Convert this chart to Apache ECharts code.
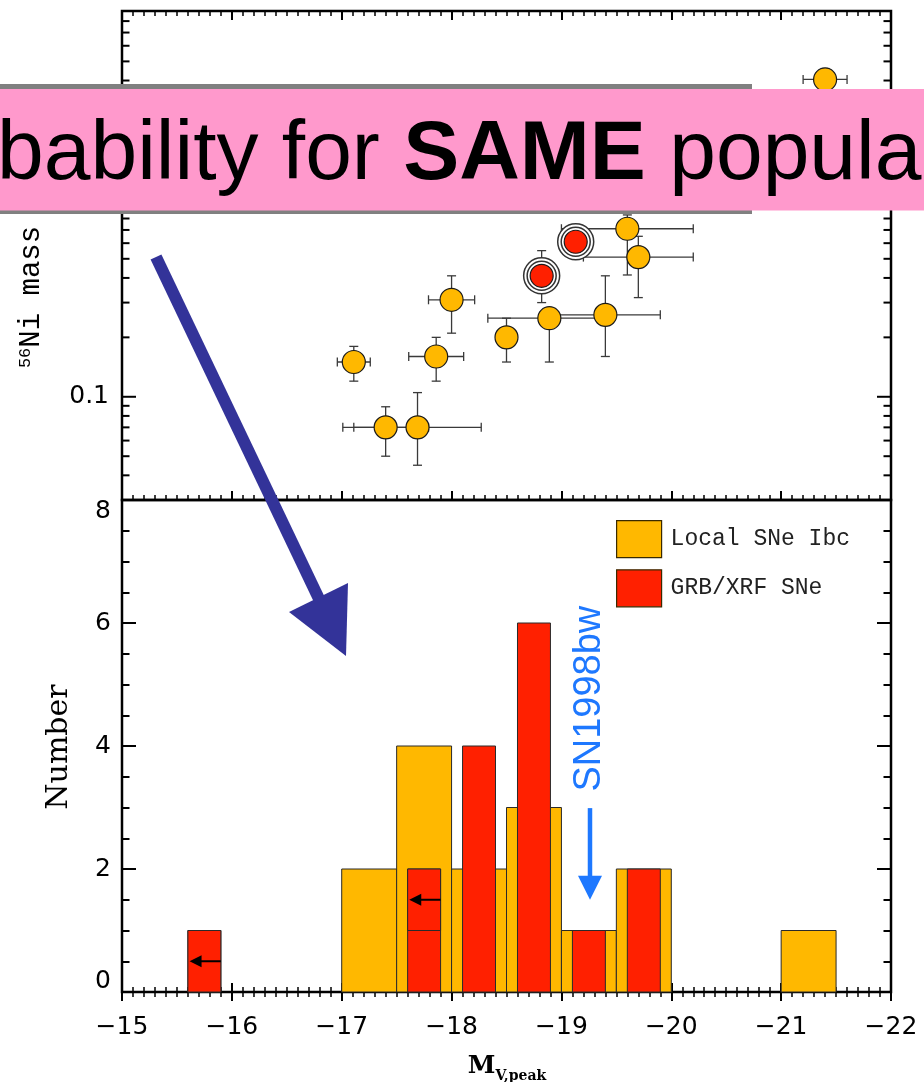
<!DOCTYPE html>
<html><head><meta charset="utf-8">
<script src="https://cdn.jsdelivr.net/npm/echarts@6/dist/echarts.min.js"></script>
<style>html,body{margin:0;padding:0;background:#fff}#c{width:924px;height:1082px}</style>
</head><body><div id="c"></div>
<script>
// ---------- Top panel: 56Ni mass vs M_V,peak ----------
const localMv    = [-17.11, -17.40, -17.69, -17.86, -18.00, -18.50, -18.89, -19.40, -19.60, -19.70, -21.40];
const localMvErr = [0.15, 0.39, 0.58, 0.25, 0.21, 0.06, 0.56, 0.50, 0.60, 0.50, 0.20];
const localNi    = [0.150, 0.070, 0.070, 0.160, 0.310, 0.200, 0.250, 0.260, 0.710, 0.510, 4.05];
const localNiLo  = [0.120, 0.050, 0.045, 0.120, 0.210, 0.150, 0.150, 0.160, 0.414, 0.318, 3.50];
const localNiHi  = [0.180, 0.089, 0.105, 0.200, 0.410, 0.250, 0.280, 0.410, 0.834, 0.650, 4.60];
const grbMv      = [-18.82, -19.13];
const grbMvErr   = [0.08, 0.08];
const grbNi      = [0.410, 0.610];
const grbNiLo    = [0.300, 0.500];
const grbNiHi    = [0.550, 0.730];

// ---------- Bottom panel: histogram of M_V,peak ----------
const binWidth     = 0.5;
const localBinEdge = [-17.0, -17.5, -18.0, -18.5, -19.0, -19.5, -21.0];
const localCounts  = [2, 4, 2, 3, 1, 2, 1];
const grbBinCenter = [-15.75, -17.75, -18.25, -18.75, -19.25, -19.75];
const grbCounts    = [1, 2, 4, 6, 1, 2];
const grbBarWidth  = 0.3;
const grbLimitCenter = [-15.75, -17.75];   // upper-limit entries (arrows)
const grbLimitBase   = [0, 1];
const sn1998bwMv   = -19.26;

// ---------- Ticks / labels ----------
const xMin = -22, xMax = -15;
const niMin = 0.03, niMax = 9;
const niLabelTicks = [0.1, 1];
const niMinorTicks = [0.04, 0.05, 0.06, 0.07, 0.08, 0.09, 0.2, 0.3, 0.4, 0.5, 0.6, 0.7, 0.8, 0.9, 2, 3, 4, 5, 6, 7, 8];
const legendNames = ['Local SNe Ibc', 'GRB/XRF SNe'];

const ORANGE = '#FFB800', RED = '#FF2000', BLUE = '#1E78FF', NAVY = '#333399';

const chart = echarts.init(document.getElementById('c'));

const xBase = {
  type: 'value', min: xMin, max: xMax, interval: 1, inverse: true,
  axisLine: { show: false }, splitLine: { show: false },
  axisTick: { show: true, inside: true, length: 9, lineStyle: { color: '#000', width: 2 } },
  minorTick: { show: true, splitNumber: 10, length: 5, lineStyle: { color: '#000', width: 1.5 } },
  axisLabel: { show: false }
};
const labelFont = { fontFamily: 'DejaVu Sans', fontSize: 25, color: '#000' };

const errData = localMv.map((m, i) => [m, localNi[i], localMvErr[i], localNiLo[i], localNiHi[i]])
  .concat(grbMv.map((m, i) => [m, grbNi[i], grbMvErr[i], grbNiLo[i], grbNiHi[i]]));

const tickData = niMinorTicks.map(v => [xMax, v, 0]).concat(niLabelTicks.map(v => [xMax, v, 1]));

function errItem(params, api) {
  const mv = api.value(0), ni = api.value(1), ex = api.value(2), lo = api.value(3), hi = api.value(4);
  const c = api.coord([mv, ni]);
  const l = api.coord([mv + ex, ni]);
  const r = api.coord([mv - ex, ni]);
  const t = api.coord([mv, hi]);
  const b = api.coord([mv, lo]);
  const cap = 4.5;
  const st = { stroke: '#3a3a3a', lineWidth: 1.3 };
  const ln = (x1, y1, x2, y2) => ({ type: 'line', shape: { x1, y1, x2, y2 }, style: st });
  return { type: 'group', children: [
    ln(l[0], c[1], r[0], c[1]), ln(l[0], c[1] - cap, l[0], c[1] + cap), ln(r[0], c[1] - cap, r[0], c[1] + cap),
    ln(c[0], t[1], c[0], b[1]), ln(c[0] - cap, t[1], c[0] + cap, t[1]), ln(c[0] - cap, b[1], c[0] + cap, b[1])
  ] };
}

function ringItem(params, api) {
  const c = api.coord([api.value(0), api.value(1)]);
  return { type: 'group', children: [
    { type: 'circle', shape: { cx: c[0], cy: c[1], r: 18 }, style: { fill: '#fff', stroke: '#333', lineWidth: 1.5 } },
    { type: 'circle', shape: { cx: c[0], cy: c[1], r: 14.5 }, style: { fill: 'none', stroke: '#333', lineWidth: 1.5 } }
  ] };
}

function tickItem(params, api) {
  const v = api.value(1), major = api.value(2);
  const L = api.coord([xMax, v]), R = api.coord([xMin, v]);
  const len = major ? 14 : 7.5;
  const st = { stroke: '#000', lineWidth: 2 };
  return { type: 'group', children: [
    { type: 'line', shape: { x1: L[0], y1: L[1], x2: L[0] + len, y2: L[1] }, style: st },
    { type: 'line', shape: { x1: R[0] - len, y1: R[1], x2: R[0], y2: R[1] }, style: st }
  ] };
}

function localBarItem(params, api) {
  const e = api.value(0), n = api.value(1);
  const p0 = api.coord([e, 0]), p1 = api.coord([e - binWidth, n]);
  return { type: 'rect', shape: { x: Math.min(p0[0], p1[0]), y: p1[1], width: Math.abs(p1[0] - p0[0]), height: p0[1] - p1[1] },
    style: { fill: ORANGE, stroke: '#2a2a2a', lineWidth: 1 } };
}

function grbBarItem(params, api) {
  const cx = api.value(0), n = api.value(1);
  const p0 = api.coord([cx + grbBarWidth / 2, 0]), p1 = api.coord([cx - grbBarWidth / 2, n]);
  return { type: 'rect', shape: { x: Math.min(p0[0], p1[0]), y: p1[1], width: Math.abs(p1[0] - p0[0]), height: p0[1] - p1[1] },
    style: { fill: RED, stroke: '#2a2a2a', lineWidth: 1 } };
}

function limitItem(params, api) {
  const cx = api.value(0), base = api.value(1);
  const p0 = api.coord([cx + grbBarWidth / 2, base]), p1 = api.coord([cx - grbBarWidth / 2, base + 1]);
  const mid = api.coord([cx, base + 0.5]);
  const tail = api.coord([cx - grbBarWidth / 2, base + 0.5]);
  const tip = api.coord([cx + 0.135, base + 0.5]);
  return { type: 'group', children: [
    { type: 'rect', shape: { x: Math.min(p0[0], p1[0]), y: p1[1], width: Math.abs(p1[0] - p0[0]), height: p0[1] - p1[1] },
      style: { fill: RED, stroke: '#2a2a2a', lineWidth: 1 } },
    { type: 'line', shape: { x1: tail[0], y1: mid[1], x2: tip[0] + 8, y2: mid[1] }, style: { stroke: '#000', lineWidth: 2 } },
    { type: 'polygon', shape: { points: [[tip[0], mid[1]], [tip[0] + 12, mid[1] - 6], [tip[0] + 12, mid[1] + 6]] }, style: { fill: '#000' } }
  ] };
}

function snItem(params, api) {
  const mv = api.value(0);
  const t = api.coord([mv, 4.77]);
  const a = api.coord([mv, 2.99]);
  const b = api.coord([mv, 1.5]);
  const headLen = 24, hw = 12;
  return { type: 'group', children: [
    { type: 'text', x: t[0], y: t[1], rotation: Math.PI / 2,
      style: { text: 'SN1998bw', fill: BLUE, font: '38px "Liberation Sans"', align: 'center', verticalAlign: 'middle' } },
    { type: 'line', shape: { x1: a[0], y1: a[1], x2: a[0], y2: b[1] - headLen + 2 }, style: { stroke: BLUE, lineWidth: 4.5 } },
    { type: 'polygon', shape: { points: [[b[0] - hw, b[1] - headLen], [b[0] + hw, b[1] - headLen], [b[0], b[1]]] }, style: { fill: BLUE } }
  ] };
}

const option = {
  animation: false,
  backgroundColor: '#fff',
  grid: [
    { left: 122, top: 11, width: 769, height: 489, show: true, borderColor: '#000', borderWidth: 2.5, backgroundColor: 'transparent' },
    { left: 122, top: 500, width: 769, height: 492, show: true, borderColor: '#000', borderWidth: 2.5, backgroundColor: 'transparent' }
  ],
  xAxis: [
    Object.assign({}, xBase, { gridIndex: 0, position: 'bottom' }),
    Object.assign({}, xBase, { gridIndex: 0, position: 'top' }),
    Object.assign({}, xBase, { gridIndex: 1, position: 'bottom',
      axisLabel: Object.assign({ show: true, margin: 23, formatter: v => (v < 0 ? '\u2212' : '') + Math.abs(v) }, labelFont) }),
    Object.assign({}, xBase, { gridIndex: 1, position: 'top' })
  ],
  yAxis: [
    { gridIndex: 0, type: 'log', logBase: 10, min: niMin, max: niMax, position: 'left',
      axisLine: { show: false }, splitLine: { show: false }, axisTick: { show: false }, minorTick: { show: false },
      axisLabel: Object.assign({ margin: 13, formatter: v => {
        for (const t of niLabelTicks) if (Math.abs(v - t) / t < 1e-6) return String(t);
        return '';
      } }, labelFont) },
    { gridIndex: 1, type: 'value', min: 0, max: 8, interval: 2, position: 'left',
      axisLine: { show: false }, splitLine: { show: false },
      axisTick: { show: true, inside: true, length: 14, lineStyle: { color: '#000', width: 2 } },
      minorTick: { show: true, splitNumber: 4, length: 7.5, lineStyle: { color: '#000', width: 2 } },
      axisLabel: Object.assign({ margin: 11, lineHeight: 22, verticalAlignMaxLabel: 'top', verticalAlignMinLabel: 'bottom' }, labelFont) },
    { gridIndex: 1, type: 'value', min: 0, max: 8, interval: 2, position: 'right',
      axisLine: { show: false }, splitLine: { show: false },
      axisTick: { show: true, inside: true, length: 14, lineStyle: { color: '#000', width: 2 } },
      minorTick: { show: true, splitNumber: 4, length: 7.5, lineStyle: { color: '#000', width: 2 } },
      axisLabel: { show: false } }
  ],
  legend: {
    orient: 'vertical', left: 616, top: 520, padding: 0, itemWidth: 45, itemHeight: 37, itemGap: 11, icon: 'rect',
    selectedMode: false, data: legendNames,
    itemStyle: { borderColor: '#3a2a00', borderWidth: 1.2 },
    textStyle: { fontFamily: 'Liberation Mono', fontSize: 23, color: '#222', padding: [0, 0, 0, 4] }
  },
  series: [
    { type: 'custom', name: 'ticks', xAxisIndex: 0, yAxisIndex: 0, renderItem: tickItem, data: tickData, encode: { x: 0, y: 1 }, z: 5, silent: true },
    { type: 'custom', name: 'err', xAxisIndex: 0, yAxisIndex: 0, renderItem: errItem, data: errData, encode: { x: 0, y: 1 }, z: 2, silent: true },
    { type: 'custom', name: 'rings', xAxisIndex: 0, yAxisIndex: 0, renderItem: ringItem,
      data: grbMv.map((m, i) => [m, grbNi[i]]), encode: { x: 0, y: 1 }, z: 3, silent: true },
    { type: 'scatter', name: 'localPts', xAxisIndex: 0, yAxisIndex: 0, symbol: 'circle', symbolSize: 23,
      itemStyle: { color: ORANGE, borderColor: '#1a1a1a', borderWidth: 1.2, opacity: 1 },
      data: localMv.map((m, i) => [m, localNi[i]]), z: 4 },
    { type: 'scatter', name: 'grbPts', xAxisIndex: 0, yAxisIndex: 0, symbol: 'circle', symbolSize: 23,
      itemStyle: { color: RED, borderColor: '#1a1a1a', borderWidth: 1.2, opacity: 1 },
      data: grbMv.map((m, i) => [m, grbNi[i]]), z: 4 },
    { type: 'custom', name: legendNames[0], xAxisIndex: 2, yAxisIndex: 1, renderItem: localBarItem,
      itemStyle: { color: ORANGE }, data: localBinEdge.map((e, i) => [e, localCounts[i]]), encode: { x: 0, y: 1 }, z: 2 },
    { type: 'custom', name: legendNames[1], xAxisIndex: 2, yAxisIndex: 1, renderItem: grbBarItem,
      itemStyle: { color: RED }, data: grbBinCenter.map((c, i) => [c, grbCounts[i]]), encode: { x: 0, y: 1 }, z: 3 },
    { type: 'custom', name: 'limits', xAxisIndex: 2, yAxisIndex: 1, renderItem: limitItem,
      data: grbLimitCenter.map((c, i) => [c, grbLimitBase[i]]), encode: { x: 0, y: 1 }, z: 4 },
    { type: 'custom', name: 'sn1998bw', xAxisIndex: 2, yAxisIndex: 1, renderItem: snItem,
      data: [[sn1998bwMv, 0]], encode: { x: 0, y: 1 }, z: 4 }
  ],
  graphic: [
    { type: 'text', x: 59, y: 747, rotation: Math.PI / 2, z: 50,
      style: { text: 'Number', font: '30px "DejaVu Serif"', fill: '#000', align: 'center', verticalAlign: 'middle' } },
    { type: 'text', x: 31, y: 297, rotation: Math.PI / 2, z: 50,
      style: { text: '{s|56}{m|Ni mass}', align: 'center', verticalAlign: 'middle', fill: '#000',
        rich: { s: { font: '17px "Liberation Mono"', verticalAlign: 'top', fill: '#000' },
                m: { font: '29px "Liberation Mono"', fill: '#000' } } } },
    { type: 'text', x: 507, y: 1066, z: 50,
      style: { text: '{m|M}{s|V,peak}', align: 'center', verticalAlign: 'middle', fill: '#000',
        rich: { m: { font: 'bold 25px "DejaVu Serif"', lineHeight: 34, fill: '#000' },
                s: { font: 'bold 14px "DejaVu Serif"', lineHeight: 18, verticalAlign: 'bottom', fill: '#000' } } } },
    { type: 'line', z: 80, shape: { x1: 156, y1: 257, x2: 320, y2: 601 }, style: { stroke: NAVY, lineWidth: 12, lineCap: 'butt' } },
    { type: 'polygon', z: 80, shape: { points: [[289, 612], [348, 583], [346, 656]] }, style: { fill: NAVY } },
    { type: 'rect', z: 90, shape: { x: 0, y: 84, width: 752, height: 130 }, style: { fill: '#808080' } },
    { type: 'rect', z: 91, shape: { x: 0, y: 89, width: 924, height: 121.5 }, style: { fill: '#FF99CC' } },
    { type: 'text', z: 92, x: -3, y: 156,
      style: { text: '{n|bability for }{b|SAME}{n| popula}', verticalAlign: 'middle', align: 'left', fill: '#000',
        rich: { n: { font: '84px "Liberation Sans"', fill: '#000' }, b: { font: 'bold 84px "Liberation Sans"', fill: '#000' } } } }
  ]
};
chart.setOption(option);
</script>
</body></html>
